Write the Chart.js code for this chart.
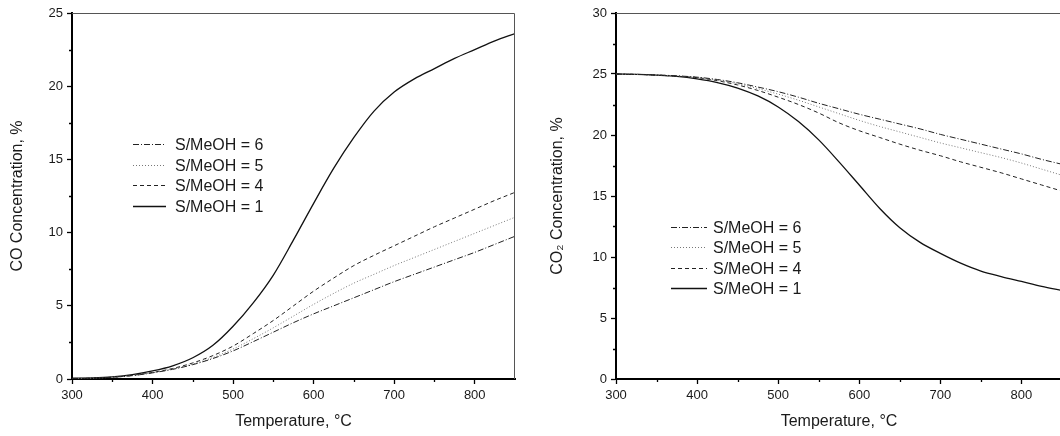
<!DOCTYPE html>
<html>
<head>
<meta charset="utf-8">
<script src="https://cdn.jsdelivr.net/npm/chart.js@4.4.1/dist/chart.umd.min.js"></script>
<style>
  html, body { margin: 0; padding: 0; background: #fff; overflow: hidden; }
  .panel { position: absolute; top: 0; height: 436px; }
  #left-panel { left: 0; width: 530px; }
  #right-panel { left: 530px; width: 560px; }
</style>
</head>
<body>
<div class="panel" id="left-panel"><canvas id="co-chart"></canvas></div>
<div class="panel" id="right-panel"><canvas id="co2-chart"></canvas></div>
<script>
// ===== Data =====
const temperatures = [300, 325, 350, 375, 400, 425, 450, 475, 500, 525, 550, 575,
  600, 625, 650, 675, 700, 725, 750, 775, 800, 825, 850];

const seriesLabels = ['S/MeOH = 6', 'S/MeOH = 5', 'S/MeOH = 4', 'S/MeOH = 1'];

// CO concentration, %
const coRatio6 = [0.03, 0.06, 0.12, 0.23, 0.42, 0.66, 0.98, 1.4, 1.92, 2.55, 3.2, 3.85,
  4.45, 5.0, 5.55, 6.1, 6.65, 7.15, 7.65, 8.15, 8.65, 9.2, 9.75];
const coRatio5 = [0.03, 0.06, 0.12, 0.24, 0.43, 0.68, 1.02, 1.47, 2.05, 2.75, 3.5, 4.3,
  5.1, 5.85, 6.55, 7.15, 7.75, 8.3, 8.85, 9.4, 9.95, 10.5, 11.05];
const coRatio4 = [0.03, 0.06, 0.12, 0.25, 0.45, 0.72, 1.1, 1.6, 2.25, 3.1, 4.0, 5.0,
  6.0, 6.9, 7.75, 8.45, 9.1, 9.75, 10.4, 11.0, 11.6, 12.2, 12.75];
const coRatio1 = [0.05, 0.08, 0.15, 0.3, 0.55, 0.9, 1.45, 2.3, 3.6, 5.2, 7.1, 9.5,
  12.0, 14.4, 16.5, 18.3, 19.6, 20.5, 21.2, 21.9, 22.5, 23.1, 23.6];

// CO2 concentration, %
const co2Ratio6 = [25.0, 24.97, 24.92, 24.85, 24.74, 24.55, 24.28, 23.93, 23.55, 23.1, 22.6, 22.15,
  21.7, 21.3, 20.9, 20.5, 20.05, 19.65, 19.25, 18.85, 18.45, 18.0, 17.6];
const co2Ratio5 = [25.0, 24.97, 24.92, 24.84, 24.72, 24.5, 24.2, 23.8, 23.35, 22.85, 22.3, 21.75,
  21.2, 20.7, 20.25, 19.8, 19.35, 18.95, 18.55, 18.15, 17.7, 17.2, 16.7];
const co2Ratio4 = [25.0, 24.97, 24.9, 24.82, 24.7, 24.45, 24.1, 23.65, 23.1, 22.5, 21.8, 21.0,
  20.35, 19.8, 19.25, 18.75, 18.3, 17.8, 17.35, 16.9, 16.4, 15.9, 15.4];
const co2Ratio1 = [25.0, 24.97, 24.9, 24.8, 24.6, 24.3, 23.85, 23.2, 22.3, 21.1, 19.6, 17.8,
  15.9, 14.0, 12.4, 11.2, 10.3, 9.5, 8.85, 8.4, 8.0, 7.6, 7.25];

const FONT_FAMILY = 'Arial, "Liberation Sans", sans-serif';
const TEXT_COLOR = '#1a1a1a';

// ===== Line styles (legend order: 6, 5, 4, 1) =====
const lineStyles = [
  { borderColor: '#222', borderDash: [6, 2, 1, 2], borderWidth: 1 },
  { borderColor: '#777', borderDash: [1, 2], borderWidth: 1 },
  { borderColor: '#222', borderDash: [4, 3], borderWidth: 1 },
  { borderColor: '#111', borderDash: [], borderWidth: 1.3 },
];

function toPoints(values) {
  return temperatures.map((t, i) => ({ x: t, y: values[i] }));
}

function buildDatasets(seriesValues) {
  return seriesValues.map((values, i) => ({
    label: seriesLabels[i],
    data: toPoints(values),
    pointRadius: 0,
    fill: false,
    cubicInterpolationMode: 'monotone',
    ...lineStyles[i],
  }));
}

// ===== Plugins =====
const frameTicksPlugin = {
  id: 'frameTicks',
  afterDraw(chart) {
    const { ctx, chartArea: area, scales } = chart;
    const xScale = scales.x;
    const yScale = scales.y;
    ctx.save();
    // thin top and right frame
    ctx.strokeStyle = '#555';
    ctx.lineWidth = 1;
    ctx.beginPath();
    ctx.moveTo(area.left, area.top + 0.5);
    ctx.lineTo(area.right - 0.5, area.top + 0.5);
    ctx.lineTo(area.right - 0.5, area.bottom);
    ctx.stroke();
    // minor ticks, outward
    ctx.strokeStyle = '#000';
    ctx.lineWidth = 1.3;
    ctx.beginPath();
    for (let v = xScale.min + 50; v < xScale.max; v += 100) {
      const px = Math.round(xScale.getPixelForValue(v)) + 0.5;
      ctx.moveTo(px, area.bottom);
      ctx.lineTo(px, area.bottom + 3);
    }
    for (let v = yScale.min + 2.5; v < yScale.max; v += 5) {
      const py = Math.round(yScale.getPixelForValue(v)) + 0.5;
      ctx.moveTo(area.left, py);
      ctx.lineTo(area.left - 3, py);
    }
    ctx.stroke();
    ctx.restore();
  },
};

const lineKeyPlugin = {
  id: 'lineKey',
  afterDraw(chart, args, opts) {
    const { ctx, chartArea: area } = chart;
    ctx.save();
    ctx.font = `16px ${FONT_FAMILY}`;
    ctx.textBaseline = 'middle';
    ctx.fillStyle = TEXT_COLOR;
    chart.data.datasets.forEach((ds, i) => {
      const y = Math.round(area.top + opts.top + i * opts.rowHeight) + 0.5;
      const x0 = area.left + opts.left;
      ctx.strokeStyle = ds.borderColor;
      ctx.lineWidth = ds.borderWidth;
      ctx.setLineDash(ds.borderDash);
      ctx.beginPath();
      ctx.moveTo(x0, y);
      ctx.lineTo(x0 + opts.lineLength, y);
      ctx.stroke();
      ctx.setLineDash([]);
      ctx.fillText(ds.label, x0 + opts.lineLength + opts.gap, y + 1);
    });
    ctx.restore();
  },
};

// ===== Chart factory =====
function createConcentrationChart(canvasId, seriesValues, yMax, yTitle, axisWidth, rightPadding, titleOffset, legendPos) {
  const canvas = document.getElementById(canvasId);
  return new Chart(canvas, {
    type: 'line',
    data: { datasets: buildDatasets(seriesValues) },
    plugins: [frameTicksPlugin, lineKeyPlugin],
    options: {
      responsive: true,
      maintainAspectRatio: false,
      animation: false,
      layout: { padding: { left: 0, top: 13, right: rightPadding, bottom: 0 } },
      plugins: {
        legend: { display: false },
        tooltip: { enabled: false },
        lineKey: legendPos,
      },
      scales: {
        x: {
          type: 'linear',
          min: 300,
          max: 850,
          afterFit: (scale) => { scale.height = 57; },
          border: { color: '#000', width: 2 },
          grid: { drawOnChartArea: false, color: '#000', tickLength: 5, tickWidth: 1.3 },
          ticks: {
            stepSize: 100,
            includeBounds: false,
            padding: 4,
            color: TEXT_COLOR,
            font: { family: FONT_FAMILY, size: 13 },
          },
          title: {
            display: true,
            text: 'Temperature, °C',
            color: TEXT_COLOR,
            font: { family: FONT_FAMILY, size: 16 },
            padding: { top: 0, bottom: 5 },
          },
        },
        y: {
          min: 0,
          max: yMax,
          afterFit: (scale) => { scale.width = axisWidth; },
          border: { color: '#000', width: 2 },
          grid: { drawOnChartArea: false, color: '#000', tickLength: 5, tickWidth: 1.3 },
          ticks: {
            stepSize: 5,
            padding: 4,
            color: TEXT_COLOR,
            font: { family: FONT_FAMILY, size: 13 },
          },
          title: {
            display: true,
            text: yTitle,
            color: TEXT_COLOR,
            font: { family: FONT_FAMILY, size: 16 },
            padding: { top: titleOffset, bottom: 0 },
          },
        },
      },
    },
  });
}

createConcentrationChart(
  'co-chart',
  [coRatio6, coRatio5, coRatio4, coRatio1],
  25,
  'CO Concentration, %',
  72,
  15,
  8,
  { left: 61, top: 131, rowHeight: 20.6, lineLength: 33, gap: 9 },
);

createConcentrationChart(
  'co2-chart',
  [co2Ratio6, co2Ratio5, co2Ratio4, co2Ratio1],
  30,
  'CO₂ Concentration, %',
  86,
  28,
  18,
  { left: 55, top: 214, rowHeight: 20.4, lineLength: 36, gap: 6 },
);
</script>
</body>
</html>
